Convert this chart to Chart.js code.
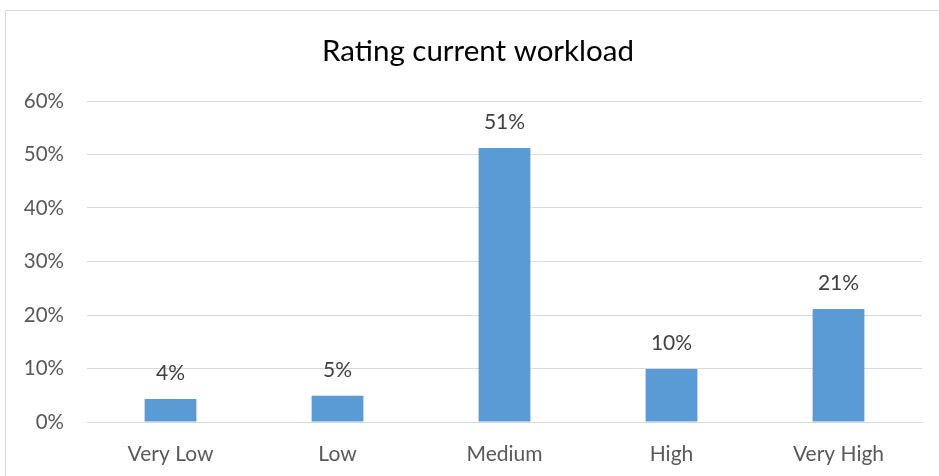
<!DOCTYPE html>
<html>
<head>
<meta charset="utf-8">
<script src="https://cdn.jsdelivr.net/npm/chart.js@4"></script>
<style>
    html, body { margin: 0; background: #fff; overflow: hidden; }
    canvas { display: block; }
</style>
</head>
<body>
<canvas id="grafico-carga" width="939" height="476"></canvas>
<script>
const categorias = ['Very Low', 'Low', 'Medium', 'High', 'Very High'];
const avaliacoes = [0.043, 0.049, 0.512, 0.099, 0.211];
const ticksY = [0, 0.1, 0.2, 0.3, 0.4, 0.5, 0.6];
const titulo = 'Rating current workload';

const fonte = "Lato, 'Open Sans', sans-serif";

function porcento(v) {
    return Math.round(v * 100) + '%';
}

// moldura cinza e título, centrado na moldura
const moldura = {
    id: 'moldura',
    beforeDraw(chart) {
        const c = chart.ctx;
        c.save();
        c.fillStyle = '#fff';
        c.fillRect(0, 0, chart.width, chart.height);
        c.strokeStyle = '#d9d9d9';
        c.lineWidth = 1;
        c.beginPath();
        c.moveTo(5.5, chart.height);
        c.lineTo(5.5, 10.5);
        c.lineTo(chart.width, 10.5);
        c.stroke();

        c.font = '29.5px ' + fonte;
        c.fillStyle = '#000';
        c.textAlign = 'center';
        c.textBaseline = 'middle';
        c.fillText(titulo, 478, 51);
        c.restore();
    }
};

// rótulos de valor em cima de cada barra
const rotulosBarras = {
    id: 'rotulosBarras',
    afterDatasetsDraw(chart) {
        const c = chart.ctx;
        const meta = chart.getDatasetMeta(0);
        c.save();
        c.font = '21px ' + fonte;
        c.fillStyle = '#404040';
        c.textAlign = 'center';
        c.textBaseline = 'middle';
        meta.data.forEach(function (barra, i) {
            c.fillText(porcento(avaliacoes[i]), barra.x, barra.y - 26);
        });
        c.restore();
    }
};

new Chart(document.getElementById('grafico-carga'), {
    type: 'bar',
    data: {
        labels: categorias,
        datasets: [{
            data: avaliacoes,
            backgroundColor: '#5b9bd5',
            borderWidth: 0,
            barPercentage: 0.31,
            categoryPercentage: 1
        }]
    },
    options: {
        responsive: false,
        animation: false,
        devicePixelRatio: 1,
        layout: { padding: { left: 0, right: 17, top: 101, bottom: 0 } },
        plugins: {
            legend: { display: false },
            tooltip: { enabled: false },
            title: { display: false }
        },
        scales: {
            x: {
                afterFit(scale) { scale.height = 54; },
                grid: { display: false, drawTicks: false },
                border: { display: true, color: '#d9d9d9', width: 1 },
                ticks: {
                    color: '#595959',
                    padding: 20,
                    font: { family: fonte, size: 21 }
                }
            },
            y: {
                min: 0,
                max: 0.6,
                afterFit(scale) { scale.width = 87; },
                afterBuildTicks(scale) { scale.ticks = ticksY.map(v => ({ value: v })); },
                grid: { color: '#d9d9d9', lineWidth: 1, drawTicks: false },
                border: { display: false },
                ticks: {
                    color: '#595959',
                    padding: 23,
                    font: { family: fonte, size: 20.5 },
                    callback: v => porcento(v)
                }
            }
        }
    },
    plugins: [moldura, rotulosBarras]
});
</script>
</body>
</html>
